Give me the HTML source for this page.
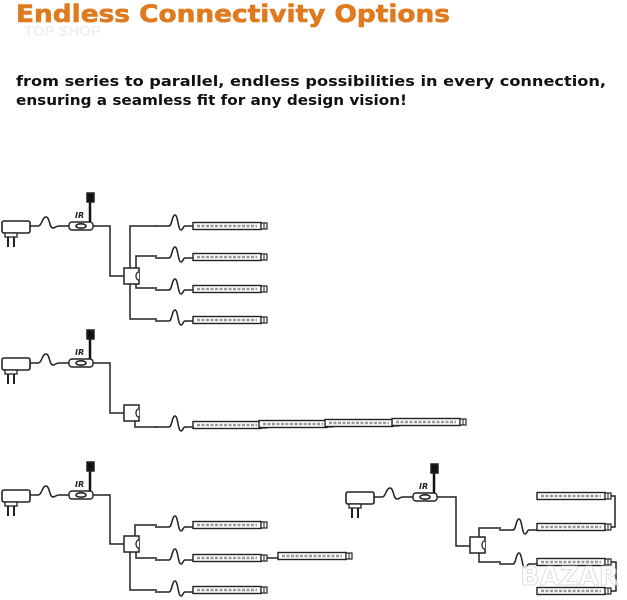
<!DOCTYPE html>
<html><head><meta charset="utf-8"><style>
html,body{margin:0;padding:0;background:#fff;width:627px;height:600px;overflow:hidden}
svg{display:block}
</style></head><body>
<svg width="627" height="600" viewBox="0 0 627 600" xmlns="http://www.w3.org/2000/svg">
<defs>
<g id="bar">
 <rect x="0" y="-3.5" width="68" height="7" fill="#fff" stroke="#222" stroke-width="1.4"/>
 <line x1="4" y1="0" x2="64" y2="0" stroke="#999" stroke-width="2.5" stroke-dasharray="3 1.5"/>
 <rect x="68" y="-3" width="6" height="6" fill="#fff" stroke="#222" stroke-width="1.2"/>
 <line x1="71" y1="-3" x2="71" y2="3" stroke="#222" stroke-width="1"/>
</g>
<g id="adapter">
 <rect x="2" y="-5" width="28" height="12" rx="2" fill="#fff" stroke="#222" stroke-width="1.6"/>
 <line x1="30" y1="0" x2="33" y2="0" stroke="#222" stroke-width="1.5"/>
 <rect x="5" y="7" width="12" height="4" fill="#fff" stroke="#222" stroke-width="1.3"/>
 <line x1="8" y1="11" x2="8" y2="21" stroke="#222" stroke-width="2"/>
 <line x1="14" y1="11" x2="14" y2="21" stroke="#222" stroke-width="2"/>
</g>
<g id="ctrl">
 <rect x="0" y="-4" width="24" height="8" rx="3" fill="#fff" stroke="#222" stroke-width="1.4"/>
 <ellipse cx="12" cy="0" rx="5" ry="2.2" fill="none" stroke="#222" stroke-width="1.6"/>
 <line x1="21" y1="-4" x2="21" y2="-26" stroke="#111" stroke-width="2.5"/>
 <rect x="18" y="-33" width="7" height="9" fill="#111"/>
</g>
<g id="split">
 <rect x="0" y="0" width="15" height="16" fill="#fff" stroke="#222" stroke-width="1.5"/>
 <path d="M15,4 c-4,0 -4,8 0,8" fill="#fff" stroke="#222" stroke-width="1.3"/>
</g>
<path id="wig" d="M0,0 h14 c3,0 3,-11 6,-11 c3,0 3,15 6,15 c2,0 2,-4 4,-4 h8" fill="none" stroke="#222" stroke-width="1.5"/>
</defs>

<text x="16" y="22" font-family="'DejaVu Sans',sans-serif" font-weight="bold" font-size="24" fill="#e07a1f" stroke="#e07a1f" stroke-width="0.6" textLength="434" lengthAdjust="spacingAndGlyphs">Endless Connectivity Options</text>
<text x="24" y="36" font-family="'Liberation Sans',sans-serif" font-weight="bold" font-size="15" fill="#eef0f4">TOP SHOP</text>
<text x="16" y="86" font-family="'DejaVu Sans',sans-serif" font-weight="bold" font-size="14" fill="#111" textLength="590" lengthAdjust="spacingAndGlyphs">from series to parallel, endless possibilities in every connection,</text>
<text x="16" y="105" font-family="'DejaVu Sans',sans-serif" font-weight="bold" font-size="14" fill="#111" textLength="391" lengthAdjust="spacingAndGlyphs">ensuring a seamless fit for any design vision!</text>

<g fill="none" stroke="#222" stroke-width="1.5">
<use href="#adapter" x="0" y="226"/>
<path d="M33,226 h5 c4,0 4,-9 8,-9 c4,0 3,11 7,11 c3,0 2,-2 6,-2 h10" />
<use href="#ctrl" x="69" y="226"/>
<path d="M93,226 h17 v50 h14"/>
<use href="#split" x="124" y="268"/>
<path d="M130,268 v-42 h27 M130,284 v35 h27 M136,268 v-12 h21 M136,284 v4 h21"/>
<use href="#wig" x="155" y="226"/><use href="#wig" x="155" y="258"/><use href="#wig" x="155" y="290"/><use href="#wig" x="155" y="321"/>

<use href="#adapter" x="0" y="363"/>
<path d="M33,363 h5 c4,0 4,-9 8,-9 c4,0 3,11 7,11 c3,0 2,-2 6,-2 h10"/>
<use href="#ctrl" x="69" y="363"/>
<path d="M93,363 h17 v50 h14"/>
<use href="#split" x="124" y="405"/>
<path d="M135,421 v6 h22"/>
<use href="#wig" x="155" y="427"/>

<use href="#adapter" x="0" y="495"/>
<path d="M33,495 h5 c4,0 4,-9 8,-9 c4,0 3,11 7,11 c3,0 2,-2 6,-2 h10"/>
<use href="#ctrl" x="69" y="495"/>
<path d="M93,495 h17 v49 h14"/>
<use href="#split" x="124" y="536"/>
<path d="M135,536 v-11 h22 M136,552 v6 h21 M130,552 v38 h27"/>
<use href="#wig" x="155" y="527"/><use href="#wig" x="155" y="560"/><use href="#wig" x="155" y="592"/>
<path d="M266,558 h12"/>

<use href="#adapter" x="344" y="497"/>
<path d="M377,497 h5 c4,0 4,-9 8,-9 c4,0 3,11 7,11 c3,0 2,-2 6,-2 h10"/>
<use href="#ctrl" x="413" y="497"/>
<path d="M437,497 h19 v49 h14"/>
<use href="#split" x="470" y="537"/>
<path d="M479,537 v-9 h22 M479,553 v9 h22"/>
<use href="#wig" x="499" y="530"/><use href="#wig" x="499" y="564"/>
<path d="M611,496 h4 v31 h-4 M611,562 h5 v29 h-5"/>
</g>
<g>
<use href="#bar" x="193" y="226"/><use href="#bar" x="193" y="257"/><use href="#bar" x="193" y="289"/><use href="#bar" x="193" y="320"/>
<use href="#bar" x="193" y="425"/><use href="#bar" x="259" y="424"/><use href="#bar" x="325" y="423"/><use href="#bar" x="392" y="422"/>
<use href="#bar" x="193" y="525"/><use href="#bar" x="193" y="558"/><use href="#bar" x="278" y="556"/><use href="#bar" x="193" y="590"/>
<use href="#bar" x="537" y="496"/><use href="#bar" x="537" y="527"/><use href="#bar" x="537" y="562"/><use href="#bar" x="537" y="591"/>
</g>
<g font-family="'DejaVu Sans',sans-serif" font-weight="bold" font-style="italic" font-size="8" fill="#222">
<text x="75" y="218">IR</text><text x="75" y="355">IR</text><text x="75" y="487">IR</text><text x="419" y="489">IR</text>
</g>
<text x="520" y="585" font-family="'DejaVu Sans',sans-serif" font-weight="bold" font-size="26" fill="#fff" stroke="#ccc" stroke-width="0.8" opacity="0.8">BAZAR</text>
</svg>
</body></html>
